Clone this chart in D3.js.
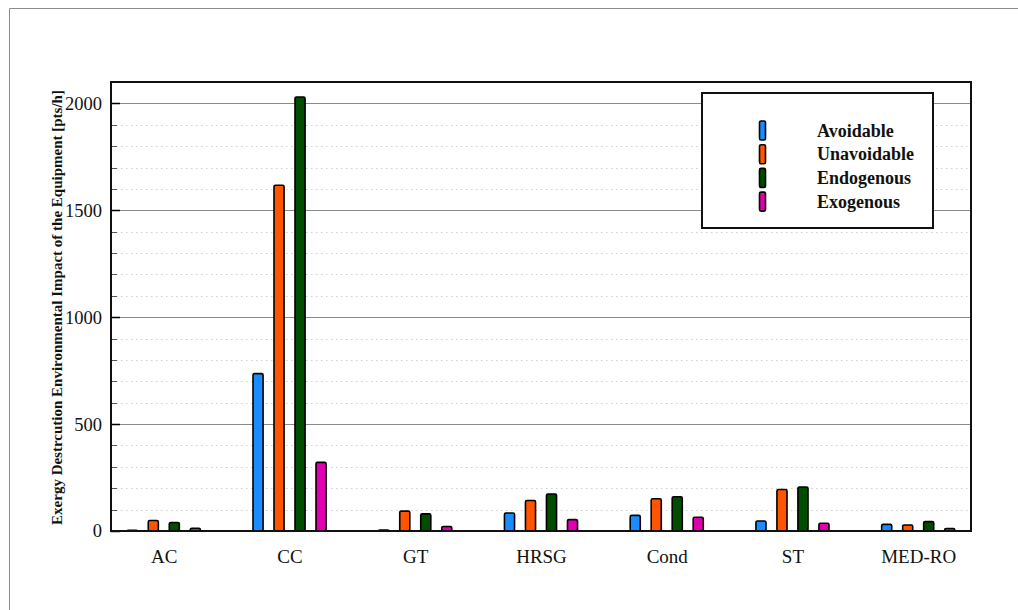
<!DOCTYPE html>
<html>
<head>
<meta charset="utf-8">
<script src="https://cdn.jsdelivr.net/npm/d3@7"></script>
<style>
  html, body { margin: 0; padding: 0; background: #fff; }
  svg { display: block; }
  text { font-family: "Liberation Serif", "Times New Roman", serif; }
</style>
</head>
<body>
<svg id="chart" width="1018" height="610"></svg>
<script>
// Equipment components and the four destruction parts
const categories = ["AC", "CC", "GT", "HRSG", "Cond", "ST", "MED-RO"];
const seriesNames = ["Avoidable", "Unavoidable", "Endogenous", "Exogenous"];
const seriesColors = ["#1a8cff", "#ff5500", "#004d00", "#e000b0"];

// Environmental impact values [pts/h], one entry per component
const avoidable   = [3, 736, 4, 84, 73, 47, 31];
const unavoidable = [49, 1617, 93, 143, 151, 194, 28];
const endogenous  = [40, 2030, 80, 173, 160, 206, 44];
const exogenous   = [13, 321, 21, 53, 64, 36, 12];

const yMajorTicks = [0, 500, 1000, 1500, 2000];
const yMax = 2100;
const yMinorStep = 100;

const seriesValues = [avoidable, unavoidable, endogenous, exogenous];

const svg = d3.select("#chart");
const W = 1018, H = 610;
const plot = { left: 111, right: 971, top: 82, bottom: 531 };

// outer figure border
svg.append("path")
  .attr("d", `M9.5,${H} V8.5 H${W}`)
  .attr("fill", "none")
  .attr("stroke", "#8c8c8c")
  .attr("stroke-width", 1);

const x0 = d3.scalePoint()
  .domain(categories)
  .range([plot.left, plot.right])
  .padding(0.42);

const x1 = d3.scaleBand()
  .domain(seriesNames)
  .range([-42, 42])
  .paddingInner(0.52)
  .paddingOuter(0.26);

const y = d3.scaleLinear()
  .domain([0, yMax])
  .range([plot.bottom, plot.top]);

const minorTicks = d3.range(0, yMax + 1, yMinorStep).filter(v => v % 500 !== 0);

// dotted minor gridlines
svg.append("g")
  .selectAll("line")
  .data(minorTicks)
  .join("line")
  .attr("x1", plot.left).attr("x2", plot.right)
  .attr("y1", d => Math.round(y(d)) + 0.5).attr("y2", d => Math.round(y(d)) + 0.5)
  .attr("stroke", "#cfcfcf")
  .attr("stroke-width", 1)
  .attr("stroke-dasharray", "1.5,3.5");

// solid major gridlines
svg.append("g")
  .selectAll("line")
  .data(yMajorTicks.filter(v => v > 0))
  .join("line")
  .attr("x1", plot.left).attr("x2", plot.right)
  .attr("y1", d => Math.round(y(d)) + 0.5).attr("y2", d => Math.round(y(d)) + 0.5)
  .attr("stroke", "#8a8a8a")
  .attr("stroke-width", 1);

// bars
const groups = svg.append("g")
  .selectAll("g")
  .data(categories)
  .join("g")
  .attr("transform", d => `translate(${x0(d)},0)`);

groups.selectAll("rect")
  .data((c, ci) => seriesNames.map((s, si) => ({ s, si, v: seriesValues[si][ci] })))
  .join("rect")
  .attr("x", d => x1(d.s))
  .attr("width", x1.bandwidth())
  .attr("y", d => y(d.v))
  .attr("height", d => y(0) - y(d.v))
  .attr("rx", 1.5)
  .attr("fill", d => seriesColors[d.si])
  .attr("stroke", "#000")
  .attr("stroke-width", 1.6);

// y axis: labels and inward ticks
const yAxis = svg.append("g").attr("transform", `translate(${plot.left},0)`);
yAxis.call(d3.axisLeft(y).tickValues(yMajorTicks).tickSize(0).tickPadding(9).tickFormat(d3.format("d")))
  .call(g => g.select(".domain").remove())
  .call(g => g.selectAll("text")
    .attr("font-family", "'Liberation Serif', 'Times New Roman', serif")
    .attr("font-size", 18.5)
    .attr("fill", "#111"));

yAxis.append("g")
  .selectAll("line")
  .data(minorTicks)
  .join("line")
  .attr("x1", 0).attr("x2", 6)
  .attr("y1", d => Math.round(y(d)) + 0.5).attr("y2", d => Math.round(y(d)) + 0.5)
  .attr("stroke", "#555").attr("stroke-width", 1);

yAxis.append("g")
  .selectAll("line")
  .data(yMajorTicks)
  .join("line")
  .attr("x1", 0).attr("x2", 9)
  .attr("y1", d => Math.round(y(d)) + 0.5).attr("y2", d => Math.round(y(d)) + 0.5)
  .attr("stroke", "#000").attr("stroke-width", 1.5);

// x axis category labels
svg.append("g")
  .attr("transform", `translate(0,${plot.bottom})`)
  .call(d3.axisBottom(x0).tickSize(0).tickPadding(19))
  .call(g => g.select(".domain").remove())
  .call(g => g.selectAll("text")
    .attr("font-family", "'Liberation Serif', 'Times New Roman', serif")
    .attr("font-size", 19)
    .attr("fill", "#111"));

// plot frame
svg.append("rect")
  .attr("x", plot.left).attr("y", plot.top)
  .attr("width", plot.right - plot.left).attr("height", plot.bottom - plot.top)
  .attr("fill", "none")
  .attr("stroke", "#111")
  .attr("stroke-width", 2);

// y axis title
svg.append("text")
  .attr("transform", `translate(62,${(plot.top + plot.bottom) / 2 + 1}) rotate(-90)`)
  .attr("text-anchor", "middle")
  .attr("font-size", 15)
  .attr("font-weight", "bold")
  .attr("fill", "#111")
  .text("Exergy Destrcution Environmental Impact of the Equipment [pts/h]");

// legend
const legend = svg.append("g").attr("transform", "translate(702,93)");
legend.append("rect")
  .attr("width", 231).attr("height", 135)
  .attr("fill", "#fff")
  .attr("stroke", "#111")
  .attr("stroke-width", 2);

const items = legend.selectAll("g.item")
  .data(seriesNames)
  .join("g")
  .attr("class", "item")
  .attr("transform", (d, i) => `translate(0,${28 + i * 23.7})`);

items.append("rect")
  .attr("x", 57.5).attr("y", 0)
  .attr("width", 6).attr("height", 19)
  .attr("rx", 1.5)
  .attr("fill", (d, i) => seriesColors[i])
  .attr("stroke", "#000")
  .attr("stroke-width", 1.6);

items.append("text")
  .attr("x", 115)
  .attr("y", 15.5)
  .attr("font-size", 18)
  .attr("font-weight", "bold")
  .attr("fill", "#111")
  .text(d => d);
</script>
</body>
</html>
